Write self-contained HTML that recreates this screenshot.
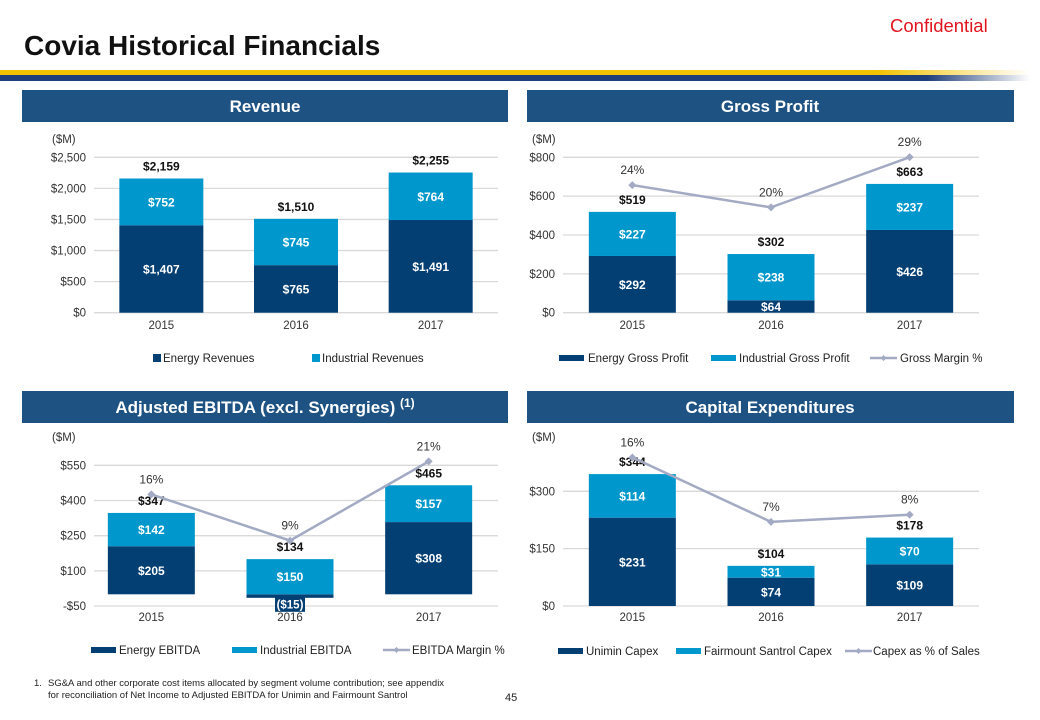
<!DOCTYPE html>
<html><head><meta charset="utf-8"><style>
body{margin:0;background:#fff;}
svg{display:block;font-family:"Liberation Sans",Arial,sans-serif;}
</style></head><body>
<svg id="page" width="1040" height="720" viewBox="0 0 1040 720">
<defs>
<linearGradient id="yel" x1="0" x2="1"><stop offset="0" stop-color="#f2c200"/><stop offset="0.85" stop-color="#f2c200"/><stop offset="1" stop-color="#fff"/></linearGradient>
<linearGradient id="blu" x1="0" x2="1"><stop offset="0" stop-color="#1f3f7a"/><stop offset="0.9" stop-color="#1f3f7a"/><stop offset="1" stop-color="#fff"/></linearGradient>
</defs>
<text x="890" y="32" font-size="18.5" fill="#e0141e">Confidential</text>
<text x="24" y="55" font-size="28" font-weight="bold" fill="#111">Covia Historical Financials</text>
<rect x="0" y="70" width="1030" height="5" fill="url(#yel)"/>
<rect x="0" y="75" width="1030" height="6" fill="url(#blu)"/>
<g><rect x="22" y="90" width="486" height="32" fill="#1d5282"/><text x="265" y="112" text-anchor="middle" font-size="17" font-weight="bold" fill="#fff">Revenue</text></g>
<g><rect x="527" y="90" width="487" height="32" fill="#1d5282"/><text x="770" y="112" text-anchor="middle" font-size="17" font-weight="bold" fill="#fff">Gross Profit</text></g>
<g><rect x="22" y="391" width="486" height="32" fill="#1d5282"/><text x="265" y="413" text-anchor="middle" font-size="17" font-weight="bold" fill="#fff">Adjusted EBITDA (excl. Synergies) <tspan font-size="12" dy="-6">(1)</tspan></text></g>
<g><rect x="527" y="391" width="487" height="32" fill="#1d5282"/><text x="770" y="413" text-anchor="middle" font-size="17" font-weight="bold" fill="#fff">Capital Expenditures</text></g>
<g font-size="9.5" fill="#222">
<text x="34" y="686">1.</text>
<text x="48" y="686">SG&amp;A and other corporate cost items allocated by segment volume contribution; see appendix</text>
<text x="48" y="698">for reconciliation of Net Income to Adjusted EBITDA for Unimin and Fairmount Santrol</text>
</g>
<text x="505" y="701" font-size="11" fill="#222">45</text>
</svg>
<script>
// ---- data ----
const years = ["2015","2016","2017"];
const revEnergy = [1407, 765, 1491];
const revIndustrial = [752, 745, 764];
const revTotal = [2159, 1510, 2255];
const revTicks = [0, 500, 1000, 1500, 2000, 2500];
const gpEnergy = [292, 64, 426];
const gpIndustrial = [227, 238, 237];
const gpTotal = [519, 302, 663];
const gpMargin = [24, 20, 29];
const gpTicks = [0, 200, 400, 600, 800];
const ebEnergy = [205, -15, 308];
const ebIndustrial = [142, 150, 157];
const ebTotal = [347, 134, 465];
const ebMargin = [16, 9, 21];
const ebTicks = [-50, 100, 250, 400, 550];
const cxUnimin = [231, 74, 109];
const cxFairmount = [114, 31, 70];
const cxTotal = [344, 104, 178];
const cxMargin = [16, 7, 8];
const cxTicks = [0, 150, 300];

const SVGNS = "http://www.w3.org/2000/svg";
const svg = document.getElementById('page');
const DARK = "#033f73", LIGHT = "#0097cc", LINE = "#a3aac3";
function mk(tag, attrs, parent, text){
  const e = document.createElementNS(SVGNS, tag);
  for (const k in attrs) e.setAttribute(k, attrs[k]);
  if (text !== undefined) e.textContent = text;
  (parent || svg).appendChild(e);
  return e;
}
function fmt(v){
  const s = "$" + Math.abs(v).toLocaleString("en-US");
  return v < 0 ? "(" + s + ")" : s;
}
function tickFmt(v){ return (v < 0 ? "-$" : "$") + Math.abs(v).toLocaleString("en-US"); }

function drawChart(o, name, A, B, T, M, ticks, legendLabels){
  const g = mk('g', {});
  
  
  const y = v => o.y0 - v * o.k;
  const band = (o.right - o.left) / years.length;
  const xc = i => o.left + band * (i + 0.5);
  const my = p => o.m0 - p * o.mk;
  mk('text', {x: o.unitX, y: o.unitY, 'font-size': 11.5, fill: '#333'}, g, "($M)");
  ticks.forEach(t => {
    const gl = mk('line', {x1: o.gridL, x2: o.right, y1: y(t), y2: y(t), stroke: '#d9d9d9', 'stroke-width': 1.3}, g);
    
    
    const tl = mk('text', {x: o.gridL - 8, y: y(t) + 4, 'text-anchor': 'end', 'font-size': 11.5, fill: '#333'}, g, tickFmt(t));
    
    
  });
  years.forEach((yr, i) => {
    const cx = xc(i), w = o.barW;
    const a = A[i], b = B[i];
    let aTop, aBot;
    if (a >= 0){ aBot = y(0); aTop = y(a); } else { aTop = y(0); aBot = y(a); }
    const ra = mk('rect', {x: cx - w/2, y: aTop, width: w, height: aBot - aTop, fill: DARK}, g);
    
    
    const base = a >= 0 ? a : 0;
    const bTop = y(base + b), bBot = y(base);
    const rb = mk('rect', {x: cx - w/2, y: bTop, width: w, height: bBot - bTop, fill: LIGHT}, g);
    
    
    if (a >= 0){
      const la = mk('text', {x: cx, y: (aTop + aBot)/2 + 4.5, 'text-anchor': 'middle', 'font-size': 12, 'font-weight': 'bold', fill: '#fff'}, g, fmt(a));
      
      
    } else {
      const bx = mk('rect', {x: cx - 15, y: aBot - 2, width: 30, height: 16, fill: DARK}, g);
      
      
      const la = mk('text', {x: cx, y: aBot + 10.5, 'text-anchor': 'middle', 'font-size': 11.5, 'font-weight': 'bold', fill: '#fff'}, g, fmt(a));
      
      
    }
    const lb = mk('text', {x: cx, y: (bTop + bBot)/2 + 4.5, 'text-anchor': 'middle', 'font-size': 12, 'font-weight': 'bold', fill: '#fff'}, g, fmt(b));
    
    
    const lt = mk('text', {x: cx, y: bTop - 8, 'text-anchor': 'middle', 'font-size': 12, 'font-weight': 'bold', fill: '#111'}, g, fmt(T[i]));
    
    
    const xl = mk('text', {x: cx, y: o.xLabY, 'text-anchor': 'middle', 'font-size': 11.5, fill: '#333'}, g, yr);
    
    
  });
  if (M){
    const pts = M.map((p, i) => xc(i) + "," + my(p)).join(" ");
    const pl = mk('polyline', {points: pts, fill: 'none', stroke: LINE, 'stroke-width': 2.5}, g);
    
    
    M.forEach((p, i) => {
      const px = xc(i), py = my(p);
      const d = mk('path', {d: `M${px-4},${py}L${px},${py-4}L${px+4},${py}L${px},${py+4}Z`, fill: LINE}, g);
      
      
      const t = mk('text', {x: px, y: py - 11, 'text-anchor': 'middle', 'font-size': 12, fill: '#333'}, g, p + "%");
      
      
    });
  }
  o.legend.forEach((L, i) => {
    const lg = mk('g', {}, g);
    
    
    if (i < 2){
      const sw = o.squares ? {x: L[0], y: o.legY - 8, width: 8, height: 8} : {x: L[0], y: o.legY - 7, width: 25, height: 6};
      sw.fill = i === 0 ? DARK : LIGHT;
      mk('rect', sw, lg);
    } else {
      mk('line', {x1: L[0], x2: L[0] + 27, y1: o.legY - 4, y2: o.legY - 4, stroke: LINE, 'stroke-width': 2.5}, lg);
      const mx = L[0] + 13.5, myy = o.legY - 4;
      mk('path', {d: `M${mx-3},${myy}L${mx},${myy-3}L${mx+3},${myy}L${mx},${myy+3}Z`, fill: LINE}, lg);
    }
    mk('text', {x: L[1], y: o.legY, 'font-size': 11.5, fill: '#222'}, lg, legendLabels[i]);
  });
}

drawChart({left: 94, right: 498, gridL: 94, y0: 312.7, k: 155.4/2500, barW: 84, m0: 0, mk: 0,
  unitX: 52, unitY: 143, xLabY: 329, legY: 362, squares: true, legend: [[153,163],[312,322]]},
  'revenue-chart', revEnergy, revIndustrial, revTotal, null, revTicks, ["Energy Revenues", "Industrial Revenues"]);

drawChart({left: 563, right: 979, gridL: 563, y0: 312.7, k: 155.4/800, barW: 87, m0: 319, mk: 5.58,
  unitX: 532, unitY: 143, xLabY: 329, legY: 362, legend: [[559,588],[711,739],[870,900]]},
  'gross-profit-chart', gpEnergy, gpIndustrial, gpTotal, gpMargin, gpTicks, ["Energy Gross Profit", "Industrial Gross Profit", "Gross Margin %"]);

drawChart({left: 82, right: 498, gridL: 94, y0: 594.3, k: 140.7/600, barW: 87, m0: 600, mk: 6.6,
  unitX: 52, unitY: 441, xLabY: 621, legY: 654, legend: [[91,119],[232,260],[383,412]]},
  'ebitda-chart', ebEnergy, ebIndustrial, ebTotal, ebMargin, ebTicks, ["Energy EBITDA", "Industrial EBITDA", "EBITDA Margin %"]);

drawChart({left: 563, right: 979, gridL: 563, y0: 606, k: 114.7/300, barW: 87, m0: 572, mk: 7.16,
  unitX: 532, unitY: 441, xLabY: 621, legY: 655, legend: [[558,586],[676,704],[845,873]]},
  'capex-chart', cxUnimin, cxFairmount, cxTotal, cxMargin, cxTicks, ["Unimin Capex", "Fairmount Santrol Capex", "Capex as % of Sales"]);
</script>
</body></html>
